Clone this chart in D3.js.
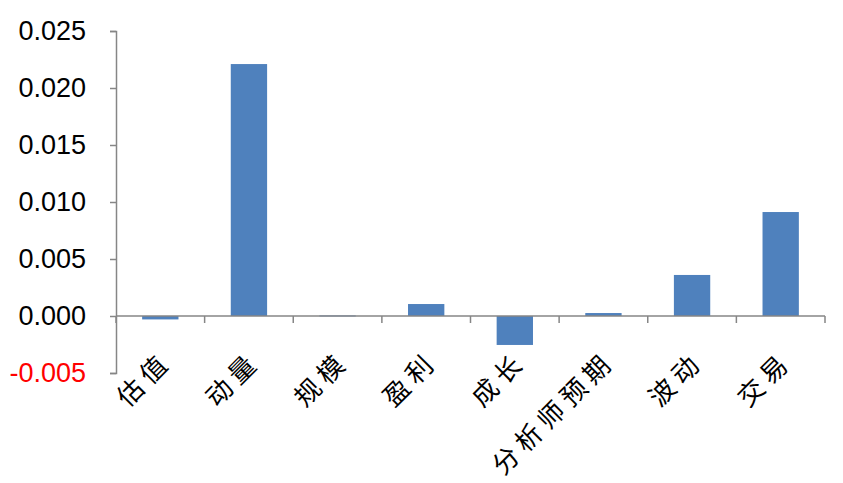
<!DOCTYPE html>
<html>
<head>
<meta charset="utf-8">
<script src="https://cdn.jsdelivr.net/npm/d3@7"></script>
<style>
  body { margin: 0; background: #fff; }
  svg text { font-family: "Liberation Sans", Arial, sans-serif; }
</style>
</head>
<body>
<div id="chart"></div>
<script>
// Data
const categories = ["估值", "动量", "规模", "盈利", "成长", "分析师预期", "波动", "交易"];
const values = [-0.0003, 0.0221, 0.00005, 0.00105, -0.00254, 0.00026, 0.0036, 0.00912];
const yTicks = [-0.005, 0, 0.005, 0.010, 0.015, 0.020, 0.025];

const W = 843, H = 483;
const margin = {top: 31, left: 116, right: 18, bottom: 110};

const svg = d3.select("#chart").append("svg")
  .attr("width", W)
  .attr("height", H);

const x = d3.scaleBand()
  .domain(categories)
  .range([margin.left, W - margin.right]);

const y = d3.scaleLinear()
  .domain([-0.005, 0.025])
  .range([373, margin.top]);

const axisColor = "#868686";

// Bars
const barW = x.step() * 0.41;
svg.selectAll(".bar")
  .data(values)
  .enter()
  .append("rect")
  .attr("class", "bar")
  .attr("x", (d, i) => x(categories[i]) + (x.step() - barW) / 2)
  .attr("y", d => y(Math.max(0, d)))
  .attr("width", barW)
  .attr("height", d => Math.max(1, Math.abs(y(d) - y(0))))
  .attr("fill", "#4F81BD");

// Y axis (hyphen minus like the original)
const fmt = d3.format(".3f");
const yAxis = svg.append("g")
  .attr("transform", `translate(${margin.left},0)`)
  .call(d3.axisLeft(y).tickValues(yTicks).tickSize(6)
    .tickFormat(d => fmt(d).replace("−", "-")));
yAxis.select(".domain").attr("stroke", axisColor).attr("stroke-width", 1.5);
yAxis.selectAll(".tick line").attr("stroke", axisColor).attr("stroke-width", 1.5);
yAxis.selectAll(".tick text")
  .attr("x", -30)
  .style("font-size", "27px")
  .attr("fill", d => d < 0 ? "#FF0000" : "#000");

// X axis at zero line with ticks at category boundaries
const xAxis = svg.append("g")
  .attr("transform", `translate(0,${y(0)})`);
xAxis.append("line")
  .attr("x1", margin.left).attr("x2", W - margin.right)
  .attr("stroke", axisColor).attr("stroke-width", 1.5);
const bounds = categories.map(c => x(c)).concat([x.range()[1]]);
xAxis.selectAll(".xtick")
  .data(bounds)
  .enter()
  .append("line")
  .attr("x1", d => d).attr("x2", d => d)
  .attr("y1", 0).attr("y2", 7)
  .attr("stroke", axisColor).attr("stroke-width", 1.5);

// Category labels, rotated
svg.selectAll(".xlabel")
  .data(categories)
  .enter()
  .append("text")
  .attr("class", "xlabel")
  .attr("transform", d => `translate(${x(d) + x.step() / 2 + 13},${363}) rotate(-45)`)
  .attr("text-anchor", "end")
  .style("font-family", "'Noto Sans CJK SC', sans-serif")
  .style("font-size", "26px")
  .style("letter-spacing", "6px")
  .attr("fill", "#000")
  .text(d => d);
</script>
</body>
</html>
